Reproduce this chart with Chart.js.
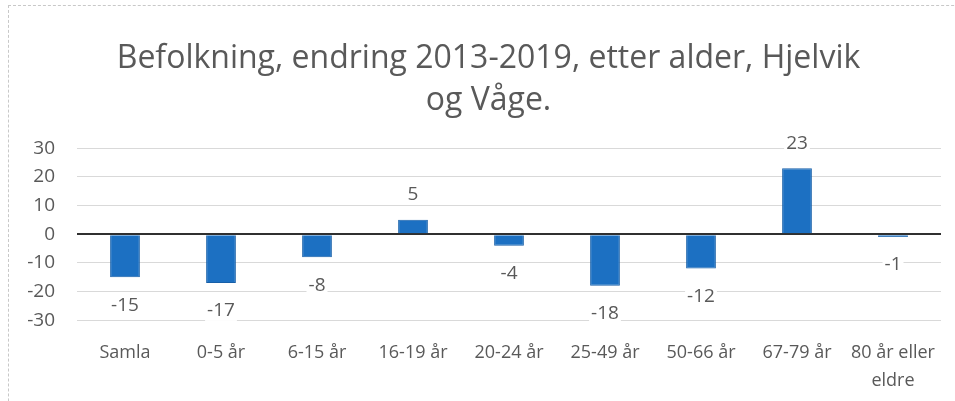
<!DOCTYPE html>
<html>
<head>
<meta charset="utf-8">
<script src="https://cdn.jsdelivr.net/npm/chart.js@4"></script>
<style>
  html, body { margin: 0; padding: 0; background: #fff; overflow: hidden; width: 955px; height: 401px; }
  /* the chart object runs a bit past the right edge of the scan */
  #frame { position: absolute; left: 8px; top: 5px; width: 1000px; height: 500px; border-left: 1px dashed #c8c8c8; border-top: 1px dashed #c8c8c8; }
  #chart { position: absolute; left: 8px; top: 0; }
</style>
</head>
<body>
<div id="frame"></div>
<canvas id="chart" width="962" height="401"></canvas>
<script>
const titleLines = ['Befolkning, endring 2013-2019, etter alder, Hjelvik', 'og Våge.'];
const categories = ['Samla', '0-5 år', '6-15 år', '16-19 år', '20-24 år', '25-49 år', '50-66 år', '67-79 år', ['80 år eller', 'eldre']];
const values = [-15, -17, -8, 5, -4, -18, -12, 23, -1];
const yTicks = { min: -30, max: 30, step: 10 };

const textColor = '#595959';
const fontFamily = "'Open Sans', 'Liberation Sans', sans-serif";

// labels just outside the bar end, like Excel "outside end"
const barLabels = {
  id: 'barLabels',
  afterDatasetsDraw(chart) {
    const ctx = chart.ctx;
    const meta = chart.getDatasetMeta(0);
    ctx.save();
    ctx.font = '19px ' + fontFamily;
    ctx.textAlign = 'center';
    ctx.textBaseline = 'middle';
    meta.data.forEach((bar, i) => {
      const v = values[i];
      const y = v >= 0 ? bar.y - 25 : bar.y + 28;
      const w = ctx.measureText(String(v)).width;
      ctx.fillStyle = '#fff';
      ctx.fillRect(bar.x - w / 2 - 2, y - 10, w + 4, 20);
      ctx.fillStyle = textColor;
      ctx.fillText(String(v), bar.x, y);
    });
    ctx.restore();
  }
};

// Excel centres the title on the whole chart object, which is wider than the scan
const titleNudge = {
  id: 'titleNudge',
  afterLayout(chart) {
    const t = chart.titleBlock;
    if (!t) return;
    t.left += 8;
    t.right += 8;
  }
};

new Chart(document.getElementById('chart'), {
  type: 'bar',
  data: {
    labels: categories,
    datasets: [{
      data: values,
      backgroundColor: '#1c70c2',
      borderColor: '#175fa8',
      borderWidth: 1,
      barPercentage: 0.62,
      categoryPercentage: 0.5
    }]
  },
  options: {
    responsive: false,
    animation: false,
    layout: { padding: { left: 12, right: 29, top: 38, bottom: -5 } },
    plugins: {
      legend: { display: false },
      tooltip: { enabled: false },
      title: {
        display: true,
        text: titleLines,
        color: textColor,
        font: { family: fontFamily, size: 32, weight: 'normal', lineHeight: 1.3 },
        padding: { top: 0, bottom: 27 }
      }
    },
    scales: {
      x: {
        grid: { display: false },
        border: { display: false },
        ticks: {
          color: textColor,
          font: { family: fontFamily, size: 18, lineHeight: 1.55 },
          padding: 11,
          maxRotation: 0,
          autoSkip: false
        }
      },
      y: {
        min: yTicks.min,
        max: yTicks.max,
        border: { display: false },
        afterFit: (scale) => { scale.width = 57; },
        grid: {
          drawTicks: false,
          color: (c) => c.tick && c.tick.value === 0 ? '#303030' : '#d9d9d9',
          lineWidth: (c) => c.tick && c.tick.value === 0 ? 2 : 1
        },
        ticks: {
          stepSize: yTicks.step,
          color: textColor,
          font: { family: fontFamily, size: 19 },
          padding: 22
        }
      }
    }
  },
  plugins: [barLabels, titleNudge]
});
</script>
</body>
</html>
